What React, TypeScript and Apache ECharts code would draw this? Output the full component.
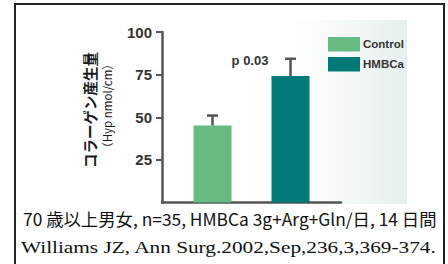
import React, { useEffect, useRef } from "react";
import * as echarts from "echarts";

const categories = ["Control", "HMBCa"];
const means = [45.2, 74.2];
const upperErrors = [51.0, 84.3];
const yMin = 0;
const yMax = 100;
const yInterval = 25;
const pValueLabel = "p 0.03";
const yTitle = "コラーゲン産生量";
const yUnit = "（Hyp nmol/cm）";
const noteLine = "70 歳以上男女, n=35, HMBCa 3g+Arg+Gln/日, 14 日間";
const citeLine = "Williams JZ, Ann Surg.2002,Sep,236,3,369-374.";

const barColors = ["#66bb80", "#007a78"];
const BAR_WIDTH = 38;
const BAR_GAP_PX = 40;

function measure(text: string, font: string): number {
  const c = document.createElement("canvas");
  const ctx = c.getContext("2d");
  if (!ctx) return 1;
  ctx.font = font;
  return ctx.measureText(text).width;
}

export default function App() {
  const ref = useRef<HTMLDivElement>(null);
  useEffect(() => {
    if (!ref.current) return;
    const chart = echarts.init(ref.current, null, { renderer: "svg" });

    const noteFont = "400 17px 'Noto Sans CJK JP'";
    const citeFont = "400 17px 'Liberation Serif'";
    const noteScale = 414 / measure(noteLine, noteFont);
    const citeScale = 416 / measure(citeLine, citeFont);

    const barSeries = categories.map((name, i) => ({
      name,
      type: "bar",
      data: [means[i]],
      barWidth: BAR_WIDTH,
      barGap: `${(BAR_GAP_PX / BAR_WIDTH) * 100}%`,
      itemStyle: { color: barColors[i] },
      z: 2,
    }));

    const errSeries = categories.map((name, i) => ({
      name: name + " SE",
      type: "custom",
      data: [[0, means[i], upperErrors[i]]],
      z: 3,
      renderItem: (params: any, api: any) => {
        const base = api.coord([api.value(0), api.value(1)]);
        const top = api.coord([api.value(0), api.value(2)]);
        const off = (i - (categories.length - 1) / 2) * (BAR_WIDTH + BAR_GAP_PX);
        const x = base[0] + off;
        const st = { stroke: "#555", lineWidth: 2.5 };
        return {
          type: "group",
          children: [
            { type: "line", shape: { x1: x, y1: base[1], x2: x, y2: top[1] }, style: st },
            { type: "line", shape: { x1: x - 5.5, y1: top[1], x2: x + 5.5, y2: top[1] }, style: st },
          ],
        };
      },
    }));

    chart.setOption({
      animation: false,
      grid: { left: 162, right: 107, top: 32, bottom: 61.5, containLabel: false },
      legend: {
        data: categories,
        orient: "vertical",
        left: 323,
        top: 32,
        itemWidth: 32,
        itemHeight: 14.5,
        itemGap: 5.5,
        icon: "rect",
        textStyle: { fontFamily: "Liberation Sans", fontWeight: "bold", fontSize: 11.5, color: "#333", padding: [0, 0, 0, -2] },
      },
      xAxis: {
        type: "category",
        data: [""],
        axisLine: { lineStyle: { color: "#555", width: 2.5 } },
        axisTick: { show: false },
        axisLabel: { show: false },
        splitLine: { show: false },
      },
      yAxis: {
        type: "value",
        min: yMin,
        max: yMax,
        interval: yInterval,
        axisLine: { show: true, lineStyle: { color: "#555", width: 2.5 } },
        axisTick: { show: true, length: 6, lineStyle: { color: "#555", width: 2 } },
        axisLabel: {
          showMinLabel: false,
          margin: 10,
          fontFamily: "Liberation Sans",
          fontWeight: "bold",
          fontSize: 15,
          color: "#333",
        },
        splitLine: { show: false },
      },
      series: [...barSeries, ...errSeries],
      graphic: [
        {
          type: "rect",
          z: -1,
          shape: { x: 290, y: 20, width: 117, height: 184 },
          style: {
            fill: new echarts.graphic.LinearGradient(0, 0, 1, 0, [
              { offset: 0, color: "rgba(236,242,242,0)" },
              { offset: 1, color: "rgba(230,238,238,1)" },
            ]),
          },
        },
        {
          type: "text",
          x: 250,
          y: 60.5,
          style: {
            text: pValueLabel,
            fontFamily: "Liberation Sans",
            fontWeight: "bold",
            fontSize: 13,
            fill: "#333",
            align: "center",
            verticalAlign: "middle",
          },
        },
        {
          type: "text",
          x: 89,
          y: 110,
          rotation: Math.PI / 2,
          style: {
            text: yTitle,
            fontFamily: "Noto Sans CJK JP",
            fontWeight: "bold",
            fontSize: 14.5,
            fill: "#1a1a1a",
            align: "center",
            verticalAlign: "middle",
          },
        },
        {
          type: "text",
          x: 107,
          y: 106,
          rotation: Math.PI / 2,
          style: {
            text: yUnit,
            fontFamily: "Noto Sans CJK JP",
            fontWeight: "normal",
            fontSize: 11.5,
            fill: "#1a1a1a",
            align: "center",
            verticalAlign: "middle",
          },
        },
        {
          type: "text",
          x: 23,
          y: 218.5,
          scaleX: noteScale,
          style: {
            text: noteLine,
            fontFamily: "Noto Sans CJK JP",
            fontWeight: "normal",
            fontSize: 17,
            fill: "#111",
            align: "left",
            verticalAlign: "middle",
          },
        },
        {
          type: "text",
          x: 21,
          y: 247.5,
          scaleX: citeScale,
          style: {
            text: citeLine,
            fontFamily: "Liberation Serif",
            fontWeight: "normal",
            fontSize: 17,
            fill: "#111",
            align: "left",
            verticalAlign: "middle",
          },
        },
        {
          type: "rect",
          z: 10,
          shape: { x: 15, y: 4, width: 429, height: 280 },
          style: { fill: "none", stroke: "#222", lineWidth: 2 },
        },
      ],
    });
    return () => chart.dispose();
  }, []);
  return (
    <div
      ref={ref}
      style={{ position: "fixed", left: 0, top: 0, width: 448, height: 264, background: "#fff" }}
    />
  );
}
